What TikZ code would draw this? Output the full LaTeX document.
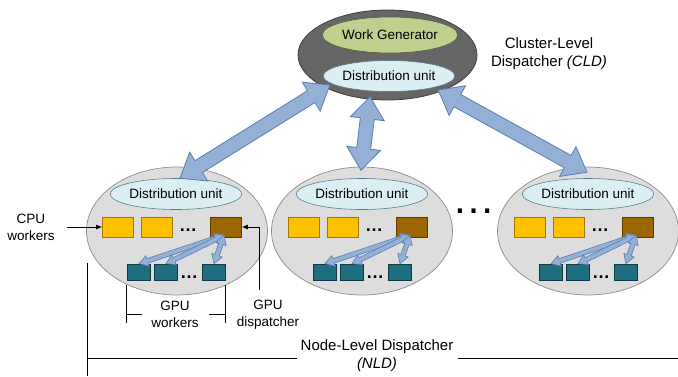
\documentclass[tikz,border=0pt]{standalone}
\usepackage{fontspec}
\setmainfont{Liberation Sans}
\usetikzlibrary{shapes.geometric,calc,arrows.meta}
\definecolor{cldfill}{HTML}{666666}
\definecolor{clddraw}{HTML}{404040}
\definecolor{wgfill}{HTML}{BFCF8E}
\definecolor{wgdraw}{HTML}{55603A}
\definecolor{dufill}{HTML}{DAEEF3}
\definecolor{dudraw}{HTML}{5B7B8A}
\definecolor{ndfill}{HTML}{DDDDDD}
\definecolor{nddraw}{HTML}{8C8C8C}
\definecolor{cpufill}{HTML}{FFC000}
\definecolor{cpudraw}{HTML}{A07800}
\definecolor{brfill}{HTML}{996600}
\definecolor{brdraw}{HTML}{5A3C00}
\definecolor{gpufill}{HTML}{1F6E7F}
\definecolor{gpudraw}{HTML}{0E3A44}
\definecolor{arfill}{HTML}{95B0D5}
\definecolor{ardraw}{HTML}{5A7EB3}
\newcommand\blockarrow[6]{%
  \coordinate (ba1) at ($(#1)!#5!(#2)$);
  \coordinate (ba2) at ($(#2)!#5!(#1)$);
  \draw[#6] (#1) -- ($(ba1)!#4!90:(#2)$) -- ($(ba1)!#3!90:(#2)$)
    -- ($(ba2)!#3!-90:(#1)$) -- ($(ba2)!#4!-90:(#1)$) -- (#2)
    -- ($(ba2)!#4!90:(#1)$) -- ($(ba2)!#3!90:(#1)$)
    -- ($(ba1)!#3!-90:(#2)$) -- ($(ba1)!#4!-90:(#2)$) -- cycle;
}
\newcommand\ndgroup[3]{%
  \node[nodeell] (#1e) at (#3,231) {};
  \node[duell] (#1du) at (#2,194) {Distribution unit};
  \node[cpubox] (#1y1) at (#2-58,227) {};
  \node[cpubox] (#1y2) at (#2-19.5,227) {};
  \node[dotlbl] (#1d1) at (#2+12,231) {…};
  \node[brbox] (#1br) at (#2+50,227) {};
  \node[gpubox] (#1g1) at (#2-37,272) {};
  \node[gpubox] (#1g2) at (#2-10,272) {};
  \node[dotlbl] (#1d2) at (#2+13,278) {…};
  \node[gpubox] (#1g3) at (#2+38,272) {};
  \coordinate (#1src) at ($(#1br.south)+(-2,-2)$);
  \blockarrow{#1src}{#1g1.north}{2.3pt}{5.5pt}{9pt}{smallarrow}
  \blockarrow{#1src}{#1g2.north}{2.3pt}{5.5pt}{9pt}{smallarrow}
  \blockarrow{#1src}{#1g3.north}{2.3pt}{5.5pt}{9pt}{smallarrow}
}
\begin{document}
\begin{tikzpicture}[x=1pt,y=-1pt,
  txt/.style={font=\fontsize{13.5}{17}\selectfont, inner sep=0pt, align=center},
  bigtxt/.style={font=\fontsize{15}{18}\selectfont, inner sep=0pt, align=center},
  cldell/.style={ellipse, fill=cldfill, draw=clddraw, line width=0.8pt, minimum width=179pt, minimum height=90pt, inner sep=0pt},
  wgell/.style={ellipse, fill=wgfill, draw=wgdraw, line width=0.6pt, minimum width=135pt, minimum height=36pt, inner sep=0pt, txt},
  duell/.style={ellipse, fill=dufill, draw=dudraw, line width=0.6pt, minimum width=131pt, minimum height=31pt, inner sep=0pt, txt},
  nodeell/.style={ellipse, fill=ndfill, draw=nddraw, line width=0.7pt, minimum width=181pt, minimum height=128pt, inner sep=0pt},
  cpubox/.style={rectangle, fill=cpufill, draw=cpudraw, line width=0.6pt, minimum width=31pt, minimum height=20pt, inner sep=0pt},
  brbox/.style={rectangle, fill=brfill, draw=brdraw, line width=0.6pt, minimum width=31pt, minimum height=20pt, inner sep=0pt},
  gpubox/.style={rectangle, fill=gpufill, draw=gpudraw, line width=0.6pt, minimum width=23pt, minimum height=16pt, inner sep=0pt},
  dotlbl/.style={anchor=base, inner sep=0pt, font=\fontsize{18}{18}\selectfont\bfseries},
  bigarrow/.style={fill=arfill, draw=ardraw, line width=0.8pt, line join=miter},
  smallarrow/.style={fill=arfill, draw=ardraw, line width=0.6pt, line join=miter},
  thinline/.style={draw=black, line width=0.8pt},
  pointer/.style={thinline, -{Latex[length=6pt,width=5pt]}}
]
\useasboundingbox (0,0) rectangle (678,376);
% Cluster-level dispatcher
\node[cldell] (cld) at (387.5,55) {};
\node[wgell] (wg) at (390,35) {Work Generator};
\node[duell] (du0) at (389,76) {Distribution unit};
\node[bigtxt] (cldlbl) at (549,54) {Cluster-Level\\Dispatcher \textit{(CLD)}};
% node-level dispatchers
\ndgroup{L}{176}{177}
\ndgroup{M}{362}{362}
\ndgroup{R}{588}{588}
\node[anchor=base, inner sep=0pt, font=\fontsize{43}{43}\selectfont] (bigdots) at (474,213.5) {…};
% big arrows
\coordinate (aLt) at ($(du0.west)+(7,9)$);
\coordinate (aLb) at ($(Ldu.north)+(4,0)$);
\coordinate (aMt) at ($(du0.south)+(-19,5)$);
\coordinate (aMb) at ($(Mdu.north)+(-1,-8)$);
\coordinate (aRt) at ($(du0.east)+(-17,14)$);
\coordinate (aRb) at ($(Rdu.north)+(-1,-6)$);
\blockarrow{aLt}{aLb}{7pt}{17pt}{22pt}{bigarrow}
\blockarrow{aMt}{aMb}{7pt}{17pt}{22pt}{bigarrow}
\blockarrow{aRt}{aRb}{7pt}{17pt}{22pt}{bigarrow}
% CPU workers label
\node[txt] (cpulbl) at (31,227) {CPU\\workers};
\draw[pointer] ([xshift=12pt]cpulbl.east) -- (Ly1.west);
% GPU dispatcher label
\node[txt] (gdlbl) at (268,314.5) {GPU\\dispatcher};
\coordinate (gdbot) at (259,290);
\draw[pointer] (gdbot) |- (Lbr.east);
% GPU workers bracket
\node[txt] (gwlbl) at (175,314.5) {GPU\\workers};
\draw[thinline] ($(Lg1.south west)+(-1,5)$) -- ($(Lg1.south west)+(-1,43)$);
\draw[thinline] ($(Lg3.south east)+(0,5)$) -- ($(Lg3.south east)+(0,43)$);
\draw[thinline] ($(Lg1.south west)+(-1,34)$) -- ($(Lg1.south west)+(15,34)$);
\draw[thinline] ($(Lg3.south east)+(-17,34)$) -- ($(Lg3.south east)+(0,34)$);
% NLD
\node[bigtxt] (nldlbl) at (377,356) {Node-Level Dispatcher\\\textit{(NLD)}};
\coordinate (nldtop) at (87,263);
\coordinate (nldbot) at (87,376);
\coordinate (nldr) at (678,358);
\draw[thinline] (nldtop) -- (nldbot);
\draw[thinline] (nldtop |- nldr) -- ([xshift=-4pt]nldlbl.west |- nldr);
\draw[thinline] ([xshift=5pt]nldlbl.east |- nldr) -- (nldr);
\end{tikzpicture}
\end{document}
